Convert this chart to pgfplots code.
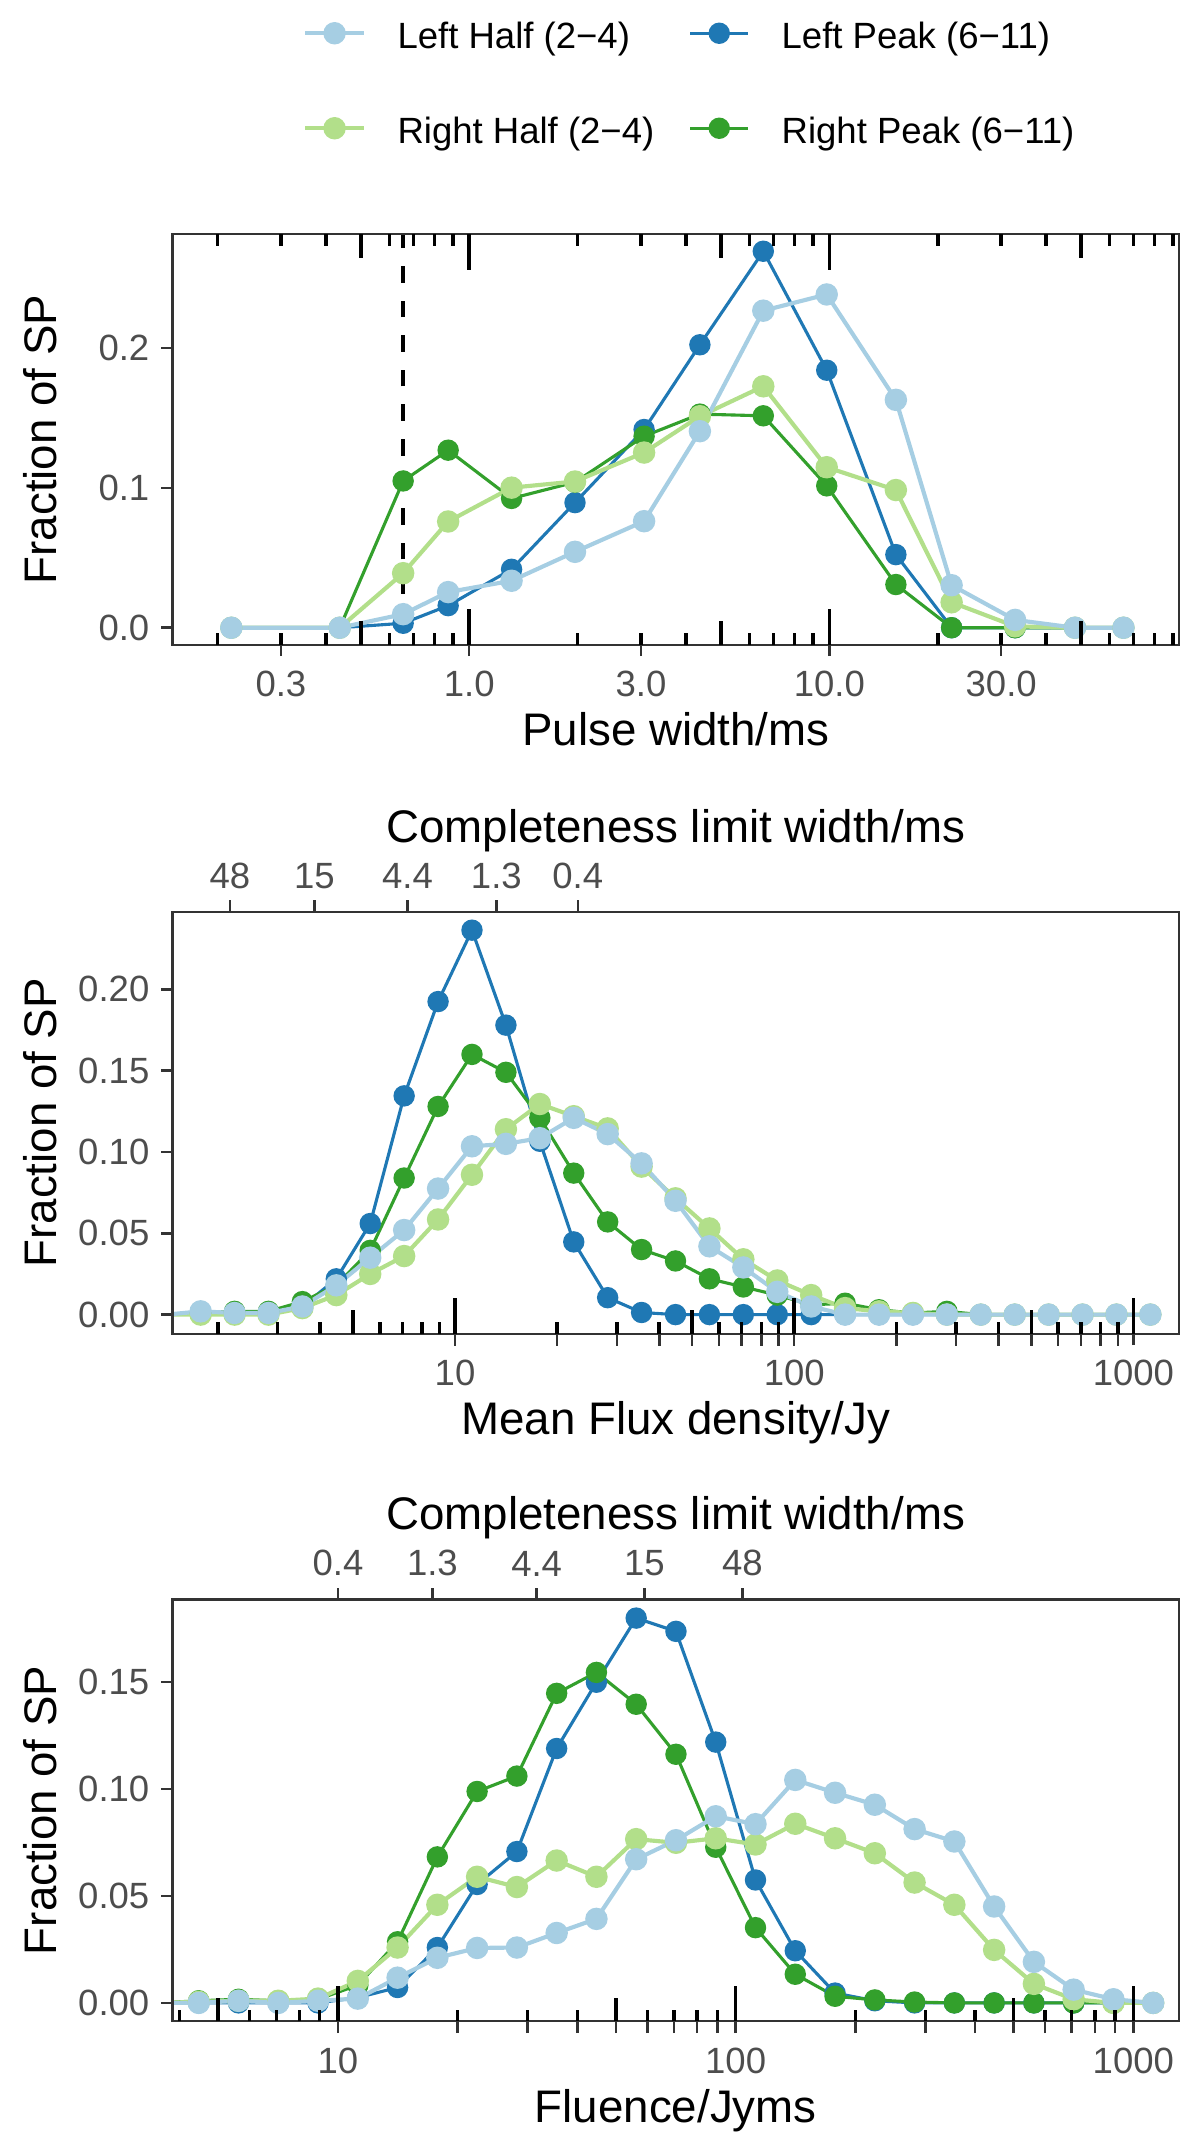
\documentclass[border=0pt]{standalone}
\usepackage{fontspec}
\setmainfont{Liberation Sans}
\usepackage{pgfplots}
\usepackage{pgfplotstable}
\pgfplotsset{compat=1.18}
\definecolor{lb}{HTML}{A6CEE3}
\definecolor{db}{HTML}{1F78B4}
\definecolor{lg}{HTML}{B2DF8A}
\definecolor{dg}{HTML}{33A02C}
\definecolor{gtwenty}{HTML}{333333}
\definecolor{gthirty}{HTML}{4D4D4D}
\newcommand{\tickfont}{\fontsize{8.8}{10}\selectfont}
\newcommand{\labfont}{\fontsize{11}{13}\selectfont}

\pgfplotstableread{
x lh lp rh rp
0.2185 0 0 0 0
0.437 0 0 0 0
0.6555 0.0097 0.0032 0.039 0.105
0.874 0.0255 0.0158 0.076 0.127
1.311 0.0336 0.0418 0.1002 0.0925
1.967 0.0543 0.0895 0.1046 0.1041
3.059 0.0762 0.1418 0.1253 0.137
4.37 0.1406 0.2024 0.1513 0.1528
6.555 0.2268 0.2693 0.1727 0.1516
9.833 0.2384 0.1842 0.1148 0.1015
15.30 0.163 0.0523 0.0985 0.0309
21.85 0.0304 0 0.0182 0
32.78 0.0056 0 0.001 0
48.07 0 0 0 0
65.55 0 0 0 0
}\tabA

\pgfplotstableread{
x lh lp rh rp
1.4125 0 0 0 0
1.7783 0.002 0.001 0 0.001
2.2387 0.001 0.001 0 0.002
2.8184 0.001 0.001 0 0.002
3.5481 0.005 0.005 0.004 0.008
4.4668 0.018 0.022 0.012 0.018
5.6234 0.035 0.056 0.025 0.0395
7.0795 0.052 0.1345 0.036 0.084
8.9125 0.0775 0.1925 0.0585 0.128
11.220 0.1035 0.2364 0.086 0.160
14.125 0.105 0.178 0.114 0.149
17.783 0.1085 0.1066 0.1295 0.121
22.387 0.121 0.0447 0.122 0.087
28.184 0.111 0.0104 0.1145 0.057
35.481 0.093 0.0013 0.091 0.040
44.668 0.070 0 0.0715 0.033
56.234 0.042 0 0.053 0.022
70.795 0.029 0 0.034 0.017
89.125 0.014 0 0.021 0.012
112.20 0.005 0 0.012 0.006
141.25 0 0 0.004 0.007
177.83 0 0 0.002 0.003
223.87 0 0 0.001 0.001
281.84 0 0 0 0.002
354.81 0 0 0 0
446.68 0 0 0 0
562.34 0 0 0 0
707.95 0 0 0 0
891.25 0 0 0 0
1122.0 0 0 0 0
}\tabB

\pgfplotstableread{
x lh lp rh rp
3.5481 0 0 0 0
4.4668 0 0 0.0005 0.001
5.6234 0.001 0 0.001 0.0017
7.0795 0 0 0.001 0.001
8.9125 0.001 0 0.002 0.0017
11.220 0.002 0.0025 0.0103 0.0083
14.125 0.0118 0.0072 0.0259 0.0286
17.783 0.0211 0.0259 0.0459 0.0683
22.387 0.0257 0.0554 0.059 0.0989
28.184 0.0259 0.0708 0.0542 0.1061
35.481 0.0327 0.119 0.0666 0.1448
44.668 0.0393 0.150 0.059 0.1546
56.234 0.0672 0.180 0.0766 0.1397
70.795 0.0761 0.1738 0.0749 0.1163
89.125 0.0873 0.122 0.077 0.0728
112.20 0.0836 0.0575 0.0741 0.0352
141.25 0.1043 0.0244 0.0838 0.0134
177.83 0.0983 0.0046 0.077 0.0031
223.87 0.0927 0.001 0.070 0.0014
281.84 0.0813 0 0.0563 0.0004
354.81 0.0755 0 0.0459 0
446.68 0.0451 0 0.0248 0
562.34 0.0192 0 0.0089 0
707.95 0.0062 0 0.0017 0
891.25 0.0017 0 0 0
1122.0 0 0 0 0
}\tabC

\pgfplotsset{
  mainax/.style={scale only axis, width=8.522cm, axis on top,
    axis line style={gtwenty, line width=0.5pt},
    every tick/.style={gtwenty, line width=0.6pt},
    major tick length=2.75pt, tick align=outside,
    xtick pos=left, ytick pos=left,
    tick label style={font=\tickfont, text=gthirty},
    xticklabel style={anchor=north, inner sep=0pt, yshift=-3.33bp},
    yticklabel style={anchor=east, inner sep=0pt, xshift=-2.63bp},
    label style={font=\labfont, inner sep=0pt},
    ylabel={Fraction of SP},
    ylabel style={at={(axis description cs:-0.1315,0.5)}, anchor=center}},
  logt/.style={scale only axis, width=8.522cm,
    ytick=\empty, axis line style={draw=none},
    tick align=inside, major tick length=0.3cm, minor tick length=0.1cm,
    every tick/.style={black, line width=0.85pt},
    extra x tick style={major tick length=0.2cm}},
  topax/.style={scale only axis, width=8.522cm,
    ytick=\empty, axis line style={draw=none},
    xtick pos=right, xticklabel pos=right, tick align=outside, major tick length=2.75pt,
    every tick/.style={gtwenty, line width=0.6pt},
    tick label style={font=\tickfont, text=gthirty},
    xticklabel style={anchor=south, inner sep=0pt, yshift=2.63bp},
    label style={font=\labfont, inner sep=0pt},
    xlabel={Completeness limit width/ms}},
  legax/.style={hide axis, scale only axis, width=10.16cm, height=18.119cm,
    anchor=south west, at={(0cm,0cm)},
    legend cell align=left,
    legend image code/.code={\draw[mark repeat=2,mark phase=2,##1] plot coordinates {(0cm,0cm) (0.2472cm,0cm) (0.4945cm,0cm)};},
    legend style={anchor=west, draw=none, fill=none,
      inner sep=0pt, outer sep=0pt, font=\tickfont,
      nodes={inner sep=0pt, text height=0.75em, text depth=0pt},
      /tikz/every odd column/.append style={column sep=7.6bp}}},
  sLH/.style={color=lb, line width=1pt, mark=*, mark size=2.2pt, mark options={draw=none, fill=lb, solid}},
  sLP/.style={color=db, line width=0.75pt, mark=*, mark size=2.2pt, mark options={draw=none, fill=db, solid}},
  sRH/.style={color=lg, line width=1pt, mark=*, mark size=2.2pt, mark options={draw=none, fill=lg, solid}},
  sRP/.style={color=dg, line width=0.75pt, mark=*, mark size=2.2pt, mark options={draw=none, fill=dg, solid}},
}

\begin{document}
\begin{tikzpicture}
\path[use as bounding box] (0,0) rectangle (10.16cm,18.119cm);

% ---------------- Legend (one entry per helper axis) ----------------
\begin{axis}[legax, xmin=0, xmax=1, ymin=0, ymax=1, legend style={at={(axis description cs:0.25275,0.98444)}}]
\addlegendimage{color=lb, line width=1pt, mark=*, mark size=2.2pt, mark options={draw=none, fill=lb, solid}}
\addlegendentry{Left Half (2−4)}
\end{axis}
\begin{axis}[legax, xmin=0, xmax=1, ymin=0, ymax=1, legend style={at={(axis description cs:0.57375,0.98444)}}]
\addlegendimage{color=db, line width=0.75pt, mark=*, mark size=2.2pt, mark options={draw=none, fill=db, solid}}
\addlegendentry{Left Peak (6−11)}
\end{axis}
\begin{axis}[legax, xmin=0, xmax=1, ymin=0, ymax=1, legend style={at={(axis description cs:0.25275,0.94005)}}]
\addlegendimage{color=lg, line width=1pt, mark=*, mark size=2.2pt, mark options={draw=none, fill=lg, solid}}
\addlegendentry{Right Half (2−4)}
\end{axis}
\begin{axis}[legax, xmin=0, xmax=1, ymin=0, ymax=1, legend style={at={(axis description cs:0.57375,0.94005)}}]
\addlegendimage{color=dg, line width=0.75pt, mark=*, mark size=2.2pt, mark options={draw=none, fill=dg, solid}}
\addlegendentry{Right Peak (6−11)}
\end{axis}

% ---------------- Panel 1 ----------------
\begin{axis}[mainax, xmode=log, anchor=south west, at={(1.4605cm,12.660cm)}, height=3.4747cm,
  xmin=0.15, xmax=93.5, ymin=-0.01216, ymax=0.2814,
  xtick={0.3,1,3,10,30}, xticklabels={0.3,1.0,3.0,10.0,30.0},
  ytick={0,0.1,0.2}, yticklabels={0.0,0.1,0.2},
  xlabel={Pulse width/ms},
  xlabel style={at={(axis description cs:0.5,-0.2444)}, anchor=base}]
\addplot[black, line width=0.9pt, dash pattern=on 4bp off 4.3bp] coordinates {(0.6555,-0.05) (0.6555,0.35)};
\addplot[sLP] table[x=x,y=lp]{\tabA};
\addplot[sRP] table[x=x,y=rp]{\tabA};
\addplot[sRH] table[x=x,y=rh]{\tabA};
\addplot[sLH] table[x=x,y=lh]{\tabA};
\end{axis}
\begin{axis}[logt, xmode=log, ymin=0, ymax=1, anchor=south west, at={(1.4605cm,12.660cm)}, height=3.4747cm,
  xmin=0.15, xmax=93.5, xtick pos=both,
  xtick={0.1,1,10,100}, xticklabels={{},{},{},{}},
  minor xtick={0.2,0.3,0.4,0.6,0.7,0.8,0.9,2,3,4,6,7,8,9,20,30,40,60,70,80,90},
  extra x ticks={0.5,5,50}, extra x tick labels={{},{},{}}]
\end{axis}

% ---------------- Panel 2 ----------------
\begin{axis}[mainax, xmode=log, anchor=south west, at={(1.4605cm,6.8267cm)}, height=3.5721cm,
  xmin=1.469, xmax=1362.6, ymin=-0.01174, ymax=0.2477,
  xtick={10,100,1000}, xticklabels={10,100,1000},
  ytick={0,0.05,0.1,0.15,0.2}, yticklabels={0.00,0.05,0.10,0.15,0.20},
  xlabel={Mean Flux density/Jy},
  xlabel style={at={(axis description cs:0.5,-0.2395)}, anchor=base}]
\addplot[sLP] table[x=x,y=lp]{\tabB};
\addplot[sRP] table[x=x,y=rp]{\tabB};
\addplot[sRH] table[x=x,y=rh]{\tabB};
\addplot[sLH] table[x=x,y=lh]{\tabB};
\end{axis}
\begin{axis}[topax, xmode=log, ymin=0, ymax=1, anchor=south west, at={(1.4605cm,6.8267cm)}, height=3.5721cm,
  xmin=1.469, xmax=1362.6,
  xtick={2.168,3.851,7.244,13.24,23.01}, xticklabels={48,15,4.4,1.3,0.4},
  xlabel style={at={(axis description cs:0.5,1.1633)}, anchor=base}]
\end{axis}
\begin{axis}[logt, xmode=log, ymin=0, ymax=1, anchor=south west, at={(1.4605cm,6.8267cm)}, height=3.5721cm,
  xmin=1.469, xmax=1362.6, xtick pos=left,
  xtick={1,10,100,1000}, xticklabels={{},{},{},{}},
  minor xtick={2,3,4,6,7,8,9,20,30,40,60,70,80,90,200,300,400,600,700,800,900},
  extra x ticks={5,50,500}, extra x tick labels={{},{},{}}]
\end{axis}

% ---------------- Panel 3 ----------------
\begin{axis}[mainax, xmode=log, anchor=south west, at={(1.4605cm,1.0042cm)}, height=3.5721cm,
  xmin=3.838, xmax=1303, ymin=-0.00865, ymax=0.1887,
  xtick={10,100,1000}, xticklabels={10,100,1000},
  ytick={0,0.05,0.1,0.15}, yticklabels={0.00,0.05,0.10,0.15},
  xlabel={Fluence/Jyms},
  xlabel style={at={(axis description cs:0.5,-0.2392)}, anchor=base}]
\addplot[sLP] table[x=x,y=lp]{\tabC};
\addplot[sRP] table[x=x,y=rp]{\tabC};
\addplot[sRH] table[x=x,y=rh]{\tabC};
\addplot[sLH] table[x=x,y=lh]{\tabC};
\end{axis}
\begin{axis}[topax, xmode=log, ymin=0, ymax=1, anchor=south west, at={(1.4605cm,1.0042cm)}, height=3.5721cm,
  xmin=3.838, xmax=1303,
  xtick={10,17.28,31.6,58.97,104.0}, xticklabels={0.4,1.3,4.4,15,48},
  xlabel style={at={(axis description cs:0.5,1.1657)}, anchor=base}]
\end{axis}
\begin{axis}[logt, xmode=log, ymin=0, ymax=1, anchor=south west, at={(1.4605cm,1.0042cm)}, height=3.5721cm,
  xmin=3.838, xmax=1303, xtick pos=left,
  xtick={10,100,1000}, xticklabels={{},{},{}},
  minor xtick={4,6,7,8,9,20,30,40,60,70,80,90,200,300,400,600,700,800,900},
  extra x ticks={5,50,500}, extra x tick labels={{},{},{}}]
\end{axis}
\end{tikzpicture}
\end{document}
